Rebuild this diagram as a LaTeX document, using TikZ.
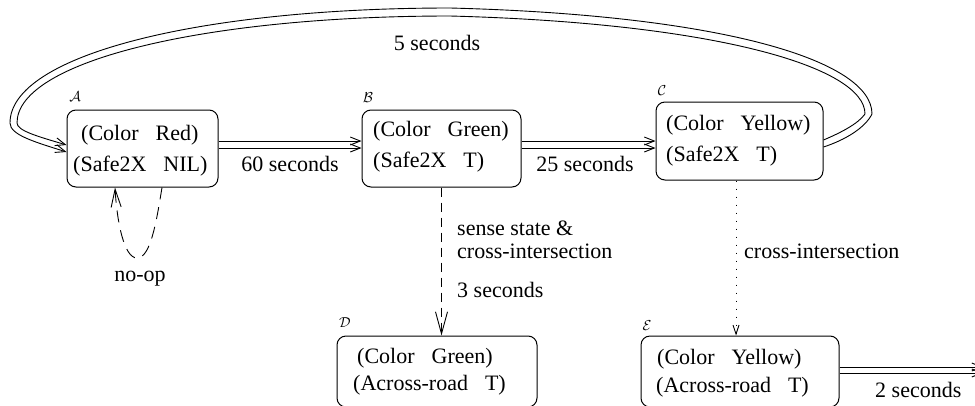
\documentclass[tikz,border=0pt]{standalone}
\usepackage{fontspec}
\setmainfont{Liberation Serif}
\usetikzlibrary{arrows.meta,calc}
\newcommand\wgap{\hspace{17pt}}
\begin{document}
\begin{tikzpicture}[x=1pt,y=-1pt,
  box/.style={draw,rounded corners=9pt,line width=1pt,inner sep=0pt},
  txt/.style={anchor=base west,inner sep=0pt,font=\fontsize{22}{26}\selectfont},
  lbl/.style={anchor=base,inner sep=0pt,font=\fontsize{22}{26}\selectfont},
  stname/.style={anchor=base,inner sep=0pt,font=\fontsize{14}{14}\selectfont},
  conn/.style={line width=0.9pt},
  tipa/.style={-{Straight Barb[length=10pt,width=8pt]}},
  tipd/.style={-{Straight Barb[length=22pt,width=12pt]}},
  tips/.style={-{Straight Barb[length=18pt,width=10pt]}},
  tipo/.style={-{Straight Barb[length=9pt,width=6pt]}},
  dashline/.style={dash pattern=on 9pt off 6pt},
  longdash/.style={dash pattern=on 12pt off 8pt},
  dotline/.style={dash pattern=on 1pt off 7pt}]
\useasboundingbox (0,0) rectangle (975,405);

% boxes
\node[box,minimum width=151pt,minimum height=77pt] (A) at (142.5,148.5) {};
\node[box,minimum width=159pt,minimum height=77pt] (B) at (441.5,148.5) {};
\node[box,minimum width=167pt,minimum height=78pt] (C) at (739.5,141) {};
\node[box,minimum width=200pt,minimum height=71pt] (D) at (437,371.5) {};
\node[box,minimum width=198pt,minimum height=71pt] (E) at (740,371.5) {};

% state names
\node[stname] (nA) at (75,101) {$\mathcal{A}$};
\node[stname] (nB) at (368,102) {$\mathcal{B}$};
\node[stname] (nC) at (662,95) {$\mathcal{C}$};
\node[stname] (nD) at (345,327) {$\mathcal{D}$};
\node[stname] (nE) at (647,330) {$\mathcal{E}$};

% box contents
\node[txt] (a1) at (81,140) {(Color\wgap Red)};
\node[txt] (a2) at (73,171) {(Safe2X\wgap NIL)};
\node[txt] (b1) at (373,136) {(Color\wgap Green)};
\node[txt] (b2) at (373,167) {(Safe2X\wgap T)};
\node[txt] (c1) at (666,130) {(Color\wgap Yellow)};
\node[txt] (c2) at (666,161.5) {(Safe2X\wgap T)};
\node[txt] (d1) at (357,363) {(Color\wgap Green)};
\node[txt] (d2) at (353,390) {(Across-road\wgap T)};
\node[txt] (e1) at (657,364) {(Color\wgap Yellow)};
\node[txt] (e2) at (656,392) {(Across-road\wgap T)};

% transition labels
\node[lbl] (l5) at (437,50) {5 seconds};
\node[lbl] (l60) at (290,171.5) {60 seconds};
\node[lbl] (l25) at (585,171.5) {25 seconds};
\node[lbl] (lnoop) at (140,281) {no-op};
\node[txt] (ls1) at (457,235) {sense state \&};
\node[txt] (ls2) at (457,258) {cross-intersection};
\node[txt] (ls3) at (457,297) {3 seconds};
\node[txt] (lci) at (744,258) {cross-intersection};
\node[txt] (l2) at (875,397) {2 seconds};

% A -> B, B -> C (double lines)
\draw[conn,tipa] ($(A.east)+(0,-7.5)$) -- ($(B.west)+(0,-7.5)$);
\draw[conn,tipa] ($(A.east)+(0,-0.5)$) -- ($(B.west)+(0,-0.5)$);
\draw[conn,tipa] ($(B.east)+(0,-7.5)$) -- ($(C.west)+(0,0)$);
\draw[conn,tipa] ($(B.east)+(0,-0.5)$) -- ($(C.west)+(0,7)$);

% C -> A loop (double)
\draw[conn,tipa] ($(C.east)+(0,6)$) .. controls (845,140) and (865,128) .. (872,114)
  .. controls (872,60) and (720,15) .. (450,8)
  .. controls (200,8) and (10,55) .. (10,123)
  .. controls (10,135) and (35,142) .. ($(A.west)+(0,3.5)$);
\draw[conn,tipa] ($(C.east)+(0,-1)$) .. controls (840,133) and (858,124) .. (865,114)
  .. controls (865,67) and (715,23) .. (450,16)
  .. controls (205,16) and (17,61) .. (17,123)
  .. controls (17,131) and (40,137) .. ($(A.west)+(0,-3.5)$);

% A self loop (no-op)
\draw[conn,longdash,tips] ($(A.south)+(19.5,0)$) .. controls (156,225) and (150,258) .. (137,258)
  .. controls (124,258) and (117,222) .. ($(A.south)+(-27.5,0)$);

% B -> D dashed
\draw[conn,dashline,tipd] (B.south) -- (B.south |- D.north);

% C -> E dotted
\coordinate (cs) at ($(C.south)+(-3.5,0)$);
\draw[conn,dotline,tipo] (cs) -- (cs |- E.north);

% E -> out (double)
\coordinate (o1) at (983,367);
\coordinate (o2) at (983,373);
\draw[conn,tipa] ($(E.east)+(0,-4.5)$) -- (o1);
\draw[conn,tipa] ($(E.east)+(0,1.5)$) -- (o2);
\end{tikzpicture}
\end{document}
